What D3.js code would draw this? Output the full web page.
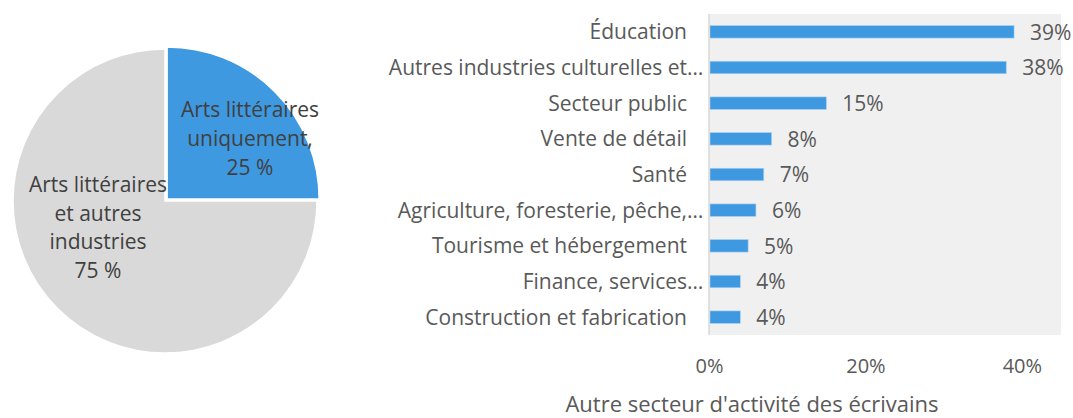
<!DOCTYPE html>
<html><head><meta charset="utf-8">
<script src="https://cdnjs.cloudflare.com/ajax/libs/d3/7.8.5/d3.min.js"></script>
<style>body{margin:0;background:#fff}svg{display:block}text{font-family:"Open Sans",sans-serif}</style>
</head><body><svg id="c" width="1073" height="418"></svg>
<script>
// Pie data
const pieLabels = [["Arts littéraires","uniquement,","25 %"],["Arts littéraires","et autres","industries","75 %"]];
const pieValues = [25, 75];
const pieColors = ["#3f99e0", "#d9d9d9"];
// Bar data
const categories = ["Éducation","Autres industries culturelles et…","Secteur public","Vente de détail","Santé","Agriculture, foresterie, pêche,…","Tourisme et hébergement","Finance, services…","Construction et fabrication"];
const values = [0.39, 0.38, 0.15, 0.08, 0.07, 0.06, 0.05, 0.04, 0.04];
const valueLabels = ["39%","38%","15%","8%","7%","6%","5%","4%","4%"];
const xTicks = [0, 0.2, 0.4];
const xTickLabels = ["0%","20%","40%"];
const axisTitle = "Autre secteur d'activité des écrivains";

const svg = d3.select("#c");
const FS = 21;

// ---- Pie ----
const cx = 165, cy = 201, R = 152;
const pie = d3.pie().sort(null).startAngle(0).endAngle(2*Math.PI)(pieValues);
const arc = d3.arc().innerRadius(0).outerRadius(R);
const g = svg.append("g").attr("transform", `translate(${cx},${cy})`);
const explode = [3, 0];
g.selectAll("path").data(pie).join("path")
  .attr("d", arc)
  .attr("transform", (d,i) => { const a=(d.startAngle+d.endAngle)/2; return `translate(${explode[i]*Math.sin(a)},${-explode[i]*Math.cos(a)})`; })
  .attr("fill", (d,i) => pieColors[i])
  .attr("stroke", "#fff").attr("stroke-width", 1.5);
const pieLabelPos = [[250-cx, 117-cy, 29], [98-cx, 192-cy, 28.7]];
pieLabels.forEach((lines,i) => {
  const t = g.append("text").attr("text-anchor","middle").attr("fill","#404040").attr("font-size",FS);
  lines.forEach((l,j) => t.append("tspan").attr("x", pieLabelPos[i][0]).attr("y", pieLabelPos[i][1] + j*pieLabelPos[i][2]).text(l));
});

// ---- Bars ----
const x0 = 709, x1 = 1061, yTop = 14, yBot = 335;
const x = d3.scaleLinear().domain([0, 0.45]).range([x0, x1]);
const y = d3.scaleBand().domain(categories).range([yTop, yBot]).paddingInner(0.65).paddingOuter(0.325);
svg.append("rect").attr("x", x0).attr("y", yTop).attr("width", x1-x0).attr("height", yBot-yTop).attr("fill", "#f0f0f0");
svg.selectAll("rect.bar").data(values).join("rect").attr("class","bar")
  .attr("x", x(0)+1).attr("y", (d,i)=>y(categories[i]))
  .attr("width", d => x(d)-x(0)-1).attr("height", y.bandwidth())
  .attr("fill", "#3f99e0").attr("stroke","#a9cff0").attr("stroke-width",0.6);
svg.append("line").attr("x1", x0).attr("x2", x0).attr("y1", yTop).attr("y2", yBot).attr("stroke","#d9d9d9").attr("stroke-width",1.5);
// category labels
categories.forEach((c,i) => {
  const yy = y(c) + y.bandwidth()/2;
  const parts = c.split("…");
  svg.append("text").attr("x", 687).attr("y", yy).attr("dy","0.35em").attr("text-anchor","end")
    .attr("fill","#595959").attr("font-size",FS).text(parts[0]);
  if (parts.length > 1) svg.append("text").attr("x", 687).attr("y", yy).attr("dy","0.35em").attr("text-anchor","start")
    .attr("fill","#595959").attr("font-size",FS).text("…");
});
// value labels
values.forEach((v,i) => {
  svg.append("text").attr("x", x(v)+16).attr("y", y(categories[i]) + y.bandwidth()/2).attr("dy","0.37em")
    .attr("fill","#595959").attr("font-size",FS).text(valueLabels[i]);
});
// x ticks
const xa = svg.append("g").attr("transform", `translate(0,${yBot})`)
  .call(d3.axisBottom(x).tickValues(xTicks).tickFormat((d,i)=>xTickLabels[i]).tickSize(0).tickPadding(24));
xa.select(".domain").remove();
xa.selectAll("text").attr("fill","#595959").attr("font-size",20).style("font-family","Open Sans");
svg.append("text").attr("x", 752).attr("y", 412).attr("text-anchor","middle").attr("fill","#595959").attr("font-size",22).text(axisTitle);
</script></body></html>
